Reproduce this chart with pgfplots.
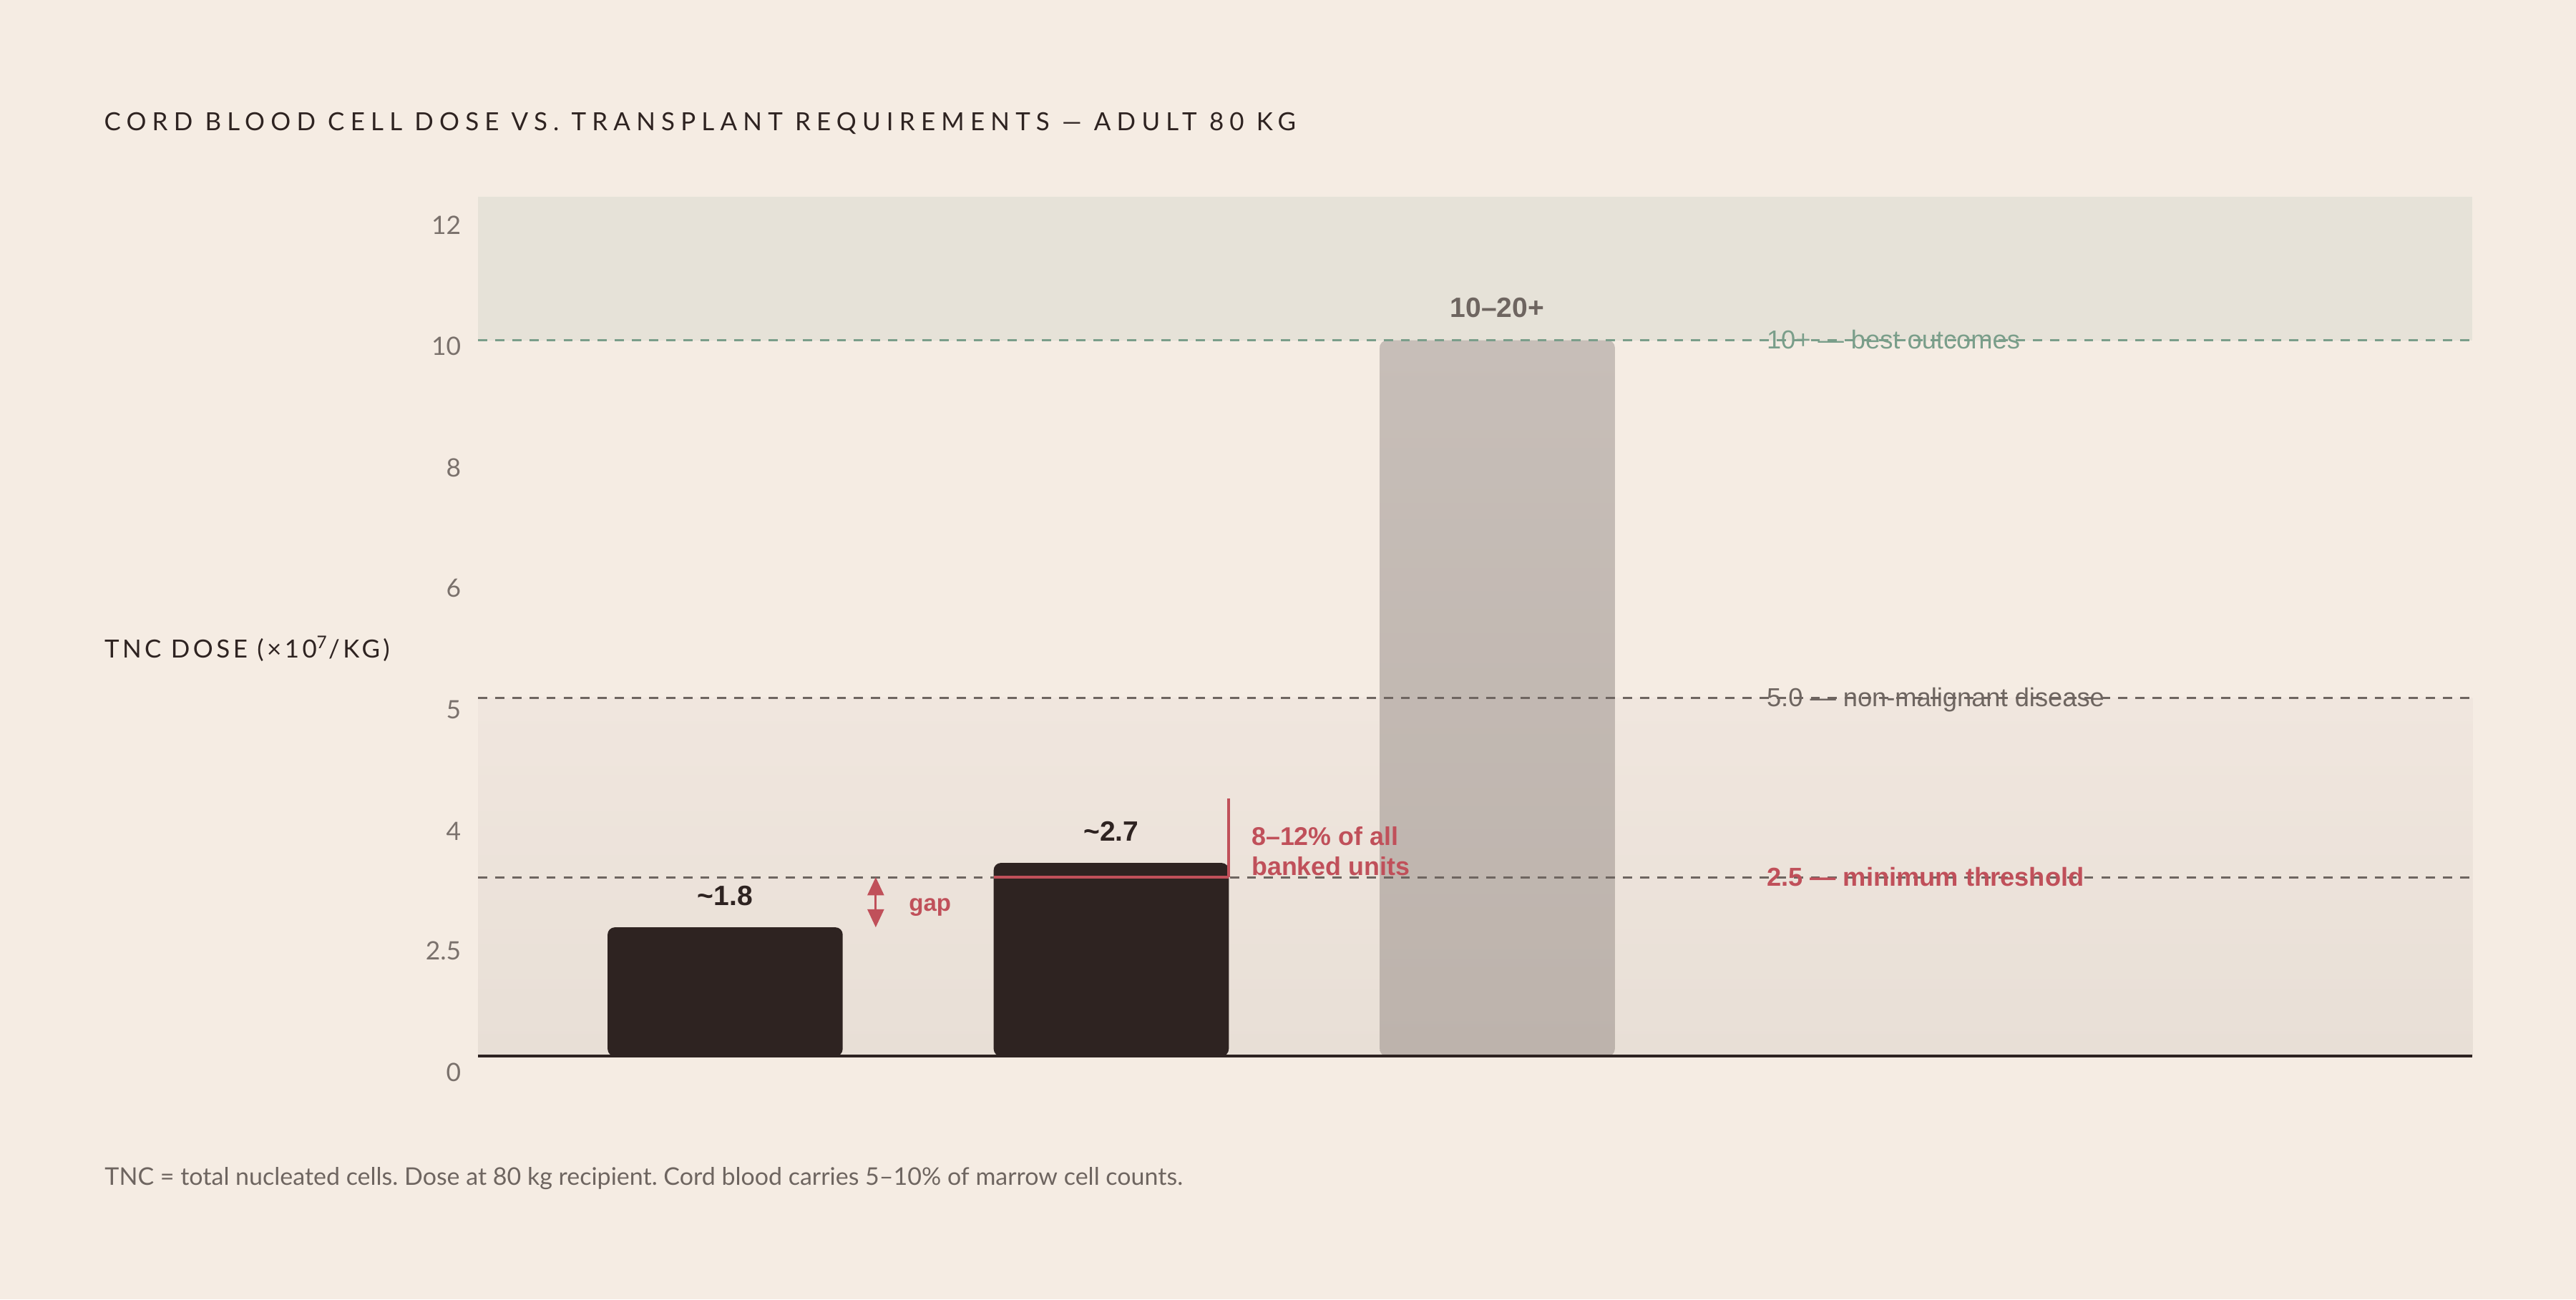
\documentclass[border=0pt]{standalone}
\usepackage{fontspec}
\setmainfont{Lato}
\newfontfamily\arial{Liberation Sans}
\usepackage{pgfplots}
\pgfplotsset{compat=1.18}
\usetikzlibrary{arrows.meta}
\definecolor{bg}{HTML}{F5ECE3}
\definecolor{topband}{HTML}{E6E2D8}
\definecolor{lowtop}{HTML}{F0E6DE}
\definecolor{lowbot}{HTML}{E8DFD6}
\definecolor{bardark}{HTML}{2E2321}
\definecolor{bthreetop}{HTML}{C7BEB8}
\definecolor{bthreebot}{HTML}{BDB3AC}
\definecolor{refgreen}{HTML}{7A9E8A}
\definecolor{refgray}{HTML}{6E6560}
\definecolor{tickc}{HTML}{7A716C}
\definecolor{redc}{HTML}{C0505A}
\definecolor{titlec}{HTML}{2E2321}
\definecolor{notec}{HTML}{6E6560}
\tikzset{ticklab/.style={anchor=east, inner sep=0, xshift=-5pt, text=tickc, font=\fontsize{7.7}{9}\selectfont}}
\frenchspacing
\begin{document}
\begin{tikzpicture}
\fill[bg] (0,0) rectangle (784pt,395.5pt);
\node[anchor=base west, inner sep=0, text=titlec, font=\fontsize{7.6}{9}\selectfont\addfontfeature{LetterSpace=23.5}] at (31.5pt,355.85pt) {CORD BLOOD CELL DOSE VS. TRANSPLANT REQUIREMENTS — ADULT 80 KG};
\node[anchor=base west, inner sep=0, text=titlec, font=\fontsize{7.6}{9}\selectfont\addfontfeature{LetterSpace=12.8}] at (31.6pt,195.15pt) {TNC DOSE (×10\textsuperscript{7}/KG)};
\node[anchor=base west, inner sep=0, text=notec, font=\fontsize{7.4}{9}\selectfont] at (31.7pt,34.65pt) {TNC = total nucleated cells. Dose at 80 kg recipient. Cord blood carries 5–10\% of marrow cell counts.};
\begin{axis}[at={(145.5pt,74pt)}, anchor=south west, scale only axis,
  width=607pt, height=261.5pt,
  xmin=-0.64, xmax=4.526, ymin=0, ymax=12,
  hide axis, clip=false]
% bands
\fill[topband] (rel axis cs:0,0.833333) rectangle (rel axis cs:1,1);
\fill[top color=lowtop, bottom color=lowbot] (rel axis cs:0,0) rectangle (rel axis cs:1,0.416667);
% bars
\addplot[ybar, bar width=0.609, bar shift=0pt, fill=bardark, draw=none, rounded corners=2.2pt] coordinates {(0,1.8) (1,2.7)};
\addplot[ybar, bar width=0.609, bar shift=0pt, draw=none, top color=bthreetop, bottom color=bthreebot, rounded corners=2.2pt] coordinates {(2,10)};
% reference lines
\draw[refgreen, line width=0.65pt, dash pattern=on 2.8pt off 2.4pt] (rel axis cs:0,0.833333) -- (rel axis cs:1,0.833333);
\draw[refgray, line width=0.65pt, dash pattern=on 2.8pt off 2.4pt] (rel axis cs:0,0.416667) -- (rel axis cs:1,0.416667);
\draw[refgray, line width=0.65pt, dash pattern=on 2.8pt off 2.4pt] (rel axis cs:0,0.208333) -- (rel axis cs:1,0.208333);
% baseline
\draw[bardark, line width=0.9pt] (rel axis cs:0,0) -- (rel axis cs:1,0);
% red highlight on bar 2
\draw[redc, line width=1pt] (axis cs:0.6955,2.5) -- (axis cs:1.3045,2.5);
\draw[redc, line width=0.8pt] (axis cs:1.3045,2.5) -- (axis cs:1.3045,3.60);
\node[anchor=base west, inner sep=0, text=redc, font=\arial\bfseries\fontsize{7.8}{9}\selectfont] at (axis cs:1.362,2.944) {8–12\% of all};
\node[anchor=base west, inner sep=0, text=redc, font=\arial\bfseries\fontsize{7.8}{9}\selectfont] at (axis cs:1.362,2.53) {banked units};
% gap arrow
\draw[redc, line width=0.6pt, {Triangle[length=5.5pt,width=5pt]}-{Triangle[length=5.5pt,width=5pt]}] (axis cs:0.390,2.5) -- (axis cs:0.390,1.8);
\node[anchor=base west, inner sep=0, text=redc, font=\arial\bfseries\fontsize{7.2}{9}\selectfont] at (axis cs:0.4745,2.03) {gap};
% value labels
\node[anchor=base, inner sep=0, yshift=6.6pt, text=bardark, font=\arial\bfseries\fontsize{8.5}{10}\selectfont] at (axis cs:0,1.8) {\textasciitilde1.8};
\node[anchor=base, inner sep=0, yshift=6.6pt, text=bardark, font=\arial\bfseries\fontsize{8.5}{10}\selectfont] at (axis cs:1,2.7) {\textasciitilde2.7};
\node[anchor=base, inner sep=0, yshift=6.9pt, text=refgray, font=\arial\bfseries\fontsize{8.5}{10}\selectfont] at (axis cs:2,10) {10–20+};
% reference labels
\node[anchor=base west, inner sep=0, yshift=-2.6pt, text=refgreen, font=\arial\fontsize{7.9}{9}\selectfont] at (rel axis cs:0.6458,0.833333) {10+ — best outcomes};
\node[anchor=base west, inner sep=0, yshift=-2.6pt, text=refgray, font=\arial\fontsize{7.9}{9}\selectfont] at (rel axis cs:0.6458,0.416667) {5.0 — non-malignant disease};
\node[anchor=base west, inner sep=0, yshift=-2.6pt, text=redc, font=\arial\bfseries\fontsize{7.9}{9}\selectfont] at (rel axis cs:0.6458,0.208333) {2.5 — minimum threshold};
% tick labels
\node[ticklab] at (axis cs:-0.64,-0.229) {0};
\node[ticklab] at (axis cs:-0.64,1.469) {2.5};
\node[ticklab] at (axis cs:-0.64,3.144) {4};
\node[ticklab] at (axis cs:-0.64,4.842) {5};
\node[ticklab] at (axis cs:-0.64,6.540) {6};
\node[ticklab] at (axis cs:-0.64,8.215) {8};
\node[ticklab] at (axis cs:-0.64,9.913) {10};
\node[ticklab] at (axis cs:-0.64,11.611) {12};
\end{axis}
\end{tikzpicture}
\end{document}
